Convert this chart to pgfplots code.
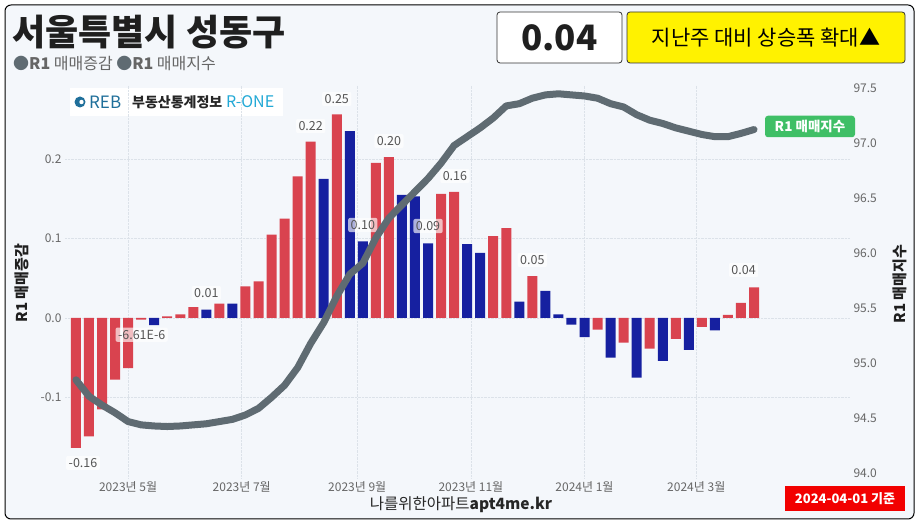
\documentclass[border=0pt]{standalone}
\usepackage{fontspec}
\setmainfont{Noto Sans CJK KR}
\usepackage{pgfplots}
\pgfplotsset{compat=1.18}
\definecolor{bgc}{HTML}{F4F7FB}
\definecolor{redbar}{HTML}{D9434F}
\definecolor{bluebar}{HTML}{1620A0}
\definecolor{linec}{HTML}{5F6B72}
\definecolor{tickc}{HTML}{666666}
\definecolor{gridc}{HTML}{DCE2E9}
\definecolor{greenlab}{HTML}{3FBF66}
\definecolor{yellowbox}{HTML}{FFF200}
\definecolor{datelab}{HTML}{F20000}
\definecolor{rebc}{HTML}{1F6F9A}
\definecolor{ronec}{HTML}{22A9D6}
\definecolor{labc}{HTML}{555555}
\tikzset{lab/.style={font=\fontsize{12.5}{12.5}\selectfont, text=labc, fill=white, fill opacity=0.65, text opacity=1, inner sep=2.5pt, rounded corners=2pt}}
\begin{document}
\begin{tikzpicture}
\useasboundingbox (0pt,0pt) rectangle (920pt,524pt);
\fill[white] (0pt,0pt) rectangle (920pt,524pt);
\draw[rounded corners=6pt, fill=bgc, draw=black, line width=1pt] (5pt,5pt) rectangle (914pt,519pt);
% title
\node[anchor=west, inner sep=0pt, font=\fontsize{36}{36}\selectfont\bfseries, text=black!88] at (12pt,492pt) {서울특별시 성동구};
\node[anchor=west, inner sep=0pt, font=\fontsize{16}{16}\selectfont, text=tickc] at (13pt,461pt) {{\color{linec}●}\textbf{R1} 매매증감 {\color{linec}●}\textbf{R1} 매매지수};
% value box
\draw[rounded corners=3pt, fill=white, draw=black!80, line width=0.8pt] (497pt,461pt) rectangle (622pt,512pt);
\node[font=\fontsize{35}{35}\selectfont\bfseries, text=black!88] at (559.5pt,486.5pt) {0.04};
\draw[rounded corners=3pt, fill=yellowbox, draw=black!80, line width=0.8pt] (627pt,461pt) rectangle (905pt,512pt);
\node[font=\fontsize{21}{21}\selectfont, text=black] at (766pt,486.5pt) {지난주 대비 상승폭 확대▲};
% logo
\fill[white] (70pt,408pt) rectangle (283pt,436pt);
\fill[rebc] (80pt,422pt) circle (5.5pt);
\fill[white] (81.5pt,422pt) circle (2.2pt);
\node[anchor=west, inner sep=0pt, font=\fontsize{17}{17}\selectfont, text=rebc] at (89pt,422pt) {REB};
\node[anchor=west, inner sep=0pt, font=\fontsize{14}{14}\selectfont\bfseries, text=black!85] at (132pt,422pt) {부동산통계정보};
\node[anchor=west, inner sep=0pt, font=\fontsize{16}{16}\selectfont, text=ronec] at (226pt,422pt) {R-ONE};
% axis labels
\node[rotate=90, font=\fontsize{15}{15}\selectfont\bfseries, text=black!88] at (22pt,241pt) {R1 매매증감};
\node[rotate=90, font=\fontsize{15}{15}\selectfont\bfseries, text=black!88] at (900pt,240pt) {R1 매매지수};
\begin{axis}[
  at={(65pt,46pt)}, anchor=south west, scale only axis, width=785pt, height=393pt,
  xmin=-0.84, xmax=59.36, ymin=-0.2013, ymax=0.2931,
  axis line style={draw=none}, tick style={draw=none}, major tick length=0pt,
  xtick={4,12.714,21.571,30.286,39,47.571},
  xticklabels={2023년 5월,2023년 7월,2023년 9월,2023년 11월,2024년 1월,2024년 3월},
  ytick={-0.1,0,0.1,0.2},
  yticklabel style={/pgf/number format/.cd, fixed, fixed zerofill, precision=1},
  /pgf/number format/assume math mode=true,
  tick label style={font=\fontsize{12}{12}\selectfont, text=tickc},
  xmajorgrids, ymajorgrids,
  grid style={densely dotted, gridc, line width=0.6pt},
  clip=false,
]
\addplot[ybar, bar width=10pt, bar shift=0pt, fill=redbar, draw=none] coordinates {
(0,-0.1635) (1,-0.149) (2,-0.115) (3,-0.0775) (4,-0.063) (5,-0.002)
(7,0.002) (8,0.0046) (9,0.0138) (11,0.018) (13,0.0398) (14,0.046)
(15,0.105) (16,0.125) (17,0.178) (18,0.222) (20,0.256) (23,0.195)
(24,0.2025) (28,0.156) (29,0.1585) (32,0.103) (33,0.113) (35,0.0528)
(40,-0.0147) (42,-0.031) (44,-0.0386) (46,-0.0264) (48,-0.0113)
(50,0.004) (51,0.019) (52,0.0386)};
\addplot[ybar, bar width=10pt, bar shift=0pt, fill=bluebar, draw=none] coordinates {
(6,-0.009) (10,0.0105) (12,0.018) (19,0.175) (21,0.235) (22,0.0965)
(25,0.155) (26,0.153) (27,0.094) (30,0.093) (31,0.082) (34,0.0205)
(36,0.034) (37,0.0046) (38,-0.0084) (39,-0.024) (41,-0.050) (43,-0.075)
(45,-0.054) (47,-0.040) (49,-0.0155)};
\node[lab] at (axis cs:0.54,-0.1824) {-0.16};
\node[lab] at (axis cs:5.04,-0.021) {-6.61E-6};
\node[lab] at (axis cs:10,0.0314) {0.01};
\node[lab] at (axis cs:18,0.2415) {0.22};
\node[lab] at (axis cs:20,0.2755) {0.25};
\node[lab] at (axis cs:22,0.117) {0.10};
\node[lab] at (axis cs:24,0.2226) {0.20};
\node[lab] at (axis cs:27,0.1157) {0.09};
\node[lab] at (axis cs:29.06,0.1786) {0.16};
\node[lab] at (axis cs:35,0.073) {0.05};
\node[lab] at (axis cs:51.2,0.0604) {0.04};
\end{axis}
\begin{axis}[
  at={(65pt,46pt)}, anchor=south west, scale only axis, width=785pt, height=393pt,
  xmin=-0.84, xmax=59.36, ymin=93.957, ymax=97.53,
  axis y line*=right, axis x line=none, xtick=\empty,
  axis line style={draw=none}, tick style={draw=none}, major tick length=0pt,
  ytick={94,94.5,95,95.5,96,96.5,97,97.5},
  yticklabel style={/pgf/number format/.cd, fixed, fixed zerofill, precision=1},
  /pgf/number format/assume math mode=true,
  tick label style={font=\fontsize{12}{12}\selectfont, text=tickc},
  clip=false,
]
\addplot[linec, line width=7pt, line join=round, line cap=round] coordinates {
(0,94.85) (1,94.70) (2,94.62) (3,94.55) (4,94.47) (5,94.44) (6,94.43)
(7,94.425) (8,94.43) (9,94.44) (10,94.45) (11,94.47) (12,94.49) (13,94.53)
(14,94.59) (15,94.69) (16,94.80) (17,94.96) (18,95.18) (19,95.37) (20,95.61)
(21,95.81) (22,95.91) (23,96.14) (24,96.32) (25,96.44) (26,96.56) (27,96.68)
(28,96.82) (29,96.98) (30,97.06) (31,97.14) (32,97.23) (33,97.34) (34,97.36)
(35,97.41) (36,97.44) (37,97.45) (38,97.44) (39,97.43) (40,97.41) (41,97.36)
(42,97.33) (43,97.26) (44,97.21) (45,97.18) (46,97.14) (47,97.11) (48,97.08)
(49,97.06) (50,97.06) (51,97.09) (52,97.125)};
\end{axis}
% line label
\node[fill=greenlab, rounded corners=3pt, text=white, font=\fontsize{13.5}{14}\selectfont\bfseries, minimum width=90pt, minimum height=21.5pt, inner sep=0pt] at (810pt,397.5pt) {R1 매매지수};
% bottom texts
\node[font=\fontsize{15.5}{16}\selectfont, text=black!85] at (461pt,19pt) {나를위한아파트\textbf{apt4me.kr}};
\fill[datelab] (785pt,13pt) rectangle (905pt,38pt);
\node[font=\fontsize{13}{13}\selectfont\bfseries, text=white] at (845pt,25.5pt) {2024-04-01 기준};
\end{tikzpicture}
\end{document}
